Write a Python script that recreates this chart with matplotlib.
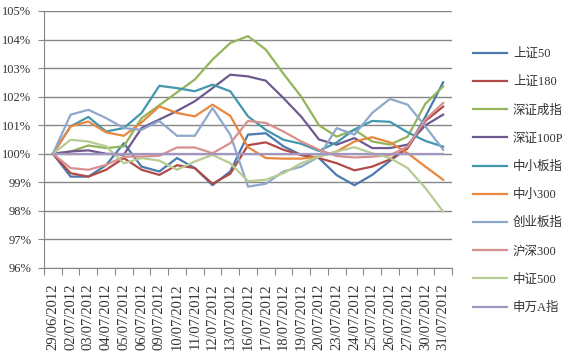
import numpy as np
import matplotlib
matplotlib.use("Agg")
import matplotlib.pyplot as plt

dates = ["29/06/2012", "02/07/2012", "03/07/2012", "04/07/2012", "05/07/2012",
         "06/07/2012", "09/07/2012", "10/07/2012", "11/07/2012", "12/07/2012",
         "13/07/2012", "16/07/2012", "17/07/2012", "18/07/2012", "19/07/2012",
         "20/07/2012", "23/07/2012", "24/07/2012", "25/07/2012", "26/07/2012",
         "27/07/2012", "30/07/2012", "31/07/2012"]

sz50 = [100, 99.2, 99.2, 99.6, 100.37, 99.55, 99.38, 99.85, 99.5, 98.9, 99.38, 100.67,
        100.72, 100.26, 99.96, 99.85, 99.25, 98.9, 99.26, 99.75, 100.2, 101.3, 102.5]
sz180 = [100, 99.32, 99.2, 99.44, 99.85, 99.44, 99.26, 99.6, 99.5, 98.95, 99.3, 100.3,
         100.4, 100.14, 99.96, 99.85, 99.67, 99.42, 99.55, 99.8, 100.2, 101.15, 101.65]
szcz = [100, 100.08, 100.29, 100.2, 100.26, 101.25, 101.7, 102.15, 102.6, 103.3, 103.88,
        104.12, 103.65, 102.8, 102.0, 101.0, 100.6, 100.84, 100.43, 100.32, 100.6, 101.75, 102.36]
sz100p = [100, 100.08, 100.12, 100.0, 99.97, 100.9, 101.2, 101.5, 101.84, 102.3, 102.77,
          102.71, 102.56, 101.95, 101.3, 100.5, 100.32, 100.55, 100.2, 100.2, 100.32, 101.0, 101.37]
zxb = [100, 100.96, 101.29, 100.78, 100.9, 101.43, 102.38, 102.3, 102.19, 102.42, 102.19,
       101.31, 100.84, 100.49, 100.35, 100.1, 100.4, 100.85, 101.15, 101.12, 100.75, 100.45, 100.25]
zx300 = [100, 100.96, 101.13, 100.75, 100.63, 101.1, 101.66, 101.43, 101.31, 101.72, 101.33,
         100.23, 99.85, 99.83, 99.83, 99.9, 100.08, 100.43, 100.58, 100.4, 100.02, 99.55, 99.09]
cyb = [100, 101.37, 101.54, 101.25, 100.9, 100.84, 101.15, 100.63, 100.63, 101.6, 100.67,
       98.85, 98.95, 99.38, 99.55, 99.9, 100.9, 100.67, 101.43, 101.92, 101.72, 100.96, 100.14]
hs300 = [100, 99.5, 99.44, 99.61, 99.9, 99.9, 99.93, 100.22, 100.22, 100.02, 100.37, 101.15,
         101.08, 100.78, 100.43, 100.14, 99.92, 99.87, 99.9, 99.95, 100.25, 101.2, 101.78]
zz500 = [100, 100.49, 100.43, 100.26, 99.67, 99.85, 99.76, 99.44, 99.73, 99.96, 99.67,
         99.04, 99.09, 99.32, 99.67, 99.9, 100.08, 100.23, 100.02, 99.85, 99.5, 98.8, 97.98]
swa = [100] * 23

names = ["上证50", "上证180", "深证成指", "深证100P", "中小板指",
         "中小300", "创业板指", "沪深300", "中证500", "申万A指"]
colors = ["#4A7AAE", "#B24A47", "#94B45A", "#6E5A8F", "#4397AD",
          "#E8873E", "#8EA8CC", "#D6918F", "#B7CC93", "#A396C0"]

fig = plt.figure(figsize=(5.66, 3.52), dpi=100)
ax = fig.add_axes([44 / 566, 84 / 352, 408 / 566, 257 / 352])

x = np.arange(len(dates))
series = [sz50, sz180, szcz, sz100p, zxb, zx300, cyb, hs300, zz500, swa]
for vals, name, c in zip(series, names, colors):
    ax.plot(x, np.array(vals) / 100, color=c, lw=1.6, label=name)

ax.set_xlim(-0.5, len(dates) - 0.5)
ax.set_ylim(0.96, 1.05)
yt = np.arange(0.96, 1.0501, 0.01)
ax.set_yticks(yt)
ax.set_yticklabels(["%d%%" % round(v * 100) for v in yt])
ax.yaxis.grid(True, color="#868686", lw=1)
ax.set_axisbelow(True)

ax.set_xticks(np.arange(-0.5, len(dates)), minor=False)
ax.set_xticklabels([])
ax.set_xticks(x, minor=True)
ax.set_xticklabels(dates, minor=True, rotation=90, fontsize=10.5,
                   family="Liberation Serif", color="#333333")
ax.tick_params(axis="x", which="major", length=5, color="#868686")
ax.tick_params(axis="x", which="minor", length=0, pad=11)
ax.tick_params(axis="y", length=4, color="#868686", pad=5, labelsize=9,
               labelcolor="#333333")
for lab in ax.get_yticklabels():
    lab.set_family("Liberation Serif")

for s in ["top", "right"]:
    ax.spines[s].set_visible(False)
for s in ["left", "bottom"]:
    ax.spines[s].set_color("#868686")

leg = ax.legend(loc="upper left", bbox_to_anchor=(473 / 566, 1 - 48 / 352),
                bbox_transform=fig.transFigure, frameon=False,
                prop={"family": ["Liberation Serif", "Noto Sans CJK SC"], "size": 9},
                handlelength=2.75, handletextpad=0.45, labelspacing=1.29,
                borderpad=0, borderaxespad=0)
for t in leg.get_texts():
    t.set_color("#333333")

fig.savefig("out.png", dpi=100)
